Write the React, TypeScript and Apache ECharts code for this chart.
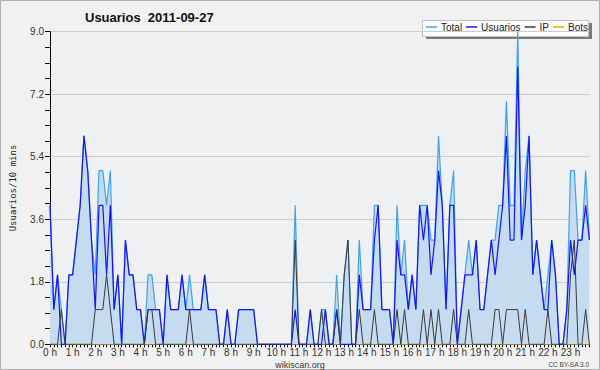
import React, { useEffect, useRef } from 'react';
import * as echarts from 'echarts';

const hourLabels = ['0 h','1 h','2 h','3 h','4 h','5 h','6 h','7 h','8 h','9 h','10 h','11 h','12 h','13 h','14 h','15 h','16 h','17 h','18 h','19 h','20 h','21 h','22 h','23 h'];

const total = [
  4,1,2,1,0,2,2,3,4,6,5,3,
  2,5,5,4,5,1,2,0,3,2,2,1,
  1,0,2,2,1,1,0,2,1,1,1,2,
  1,2,1,1,1,2,1,1,1,0,0,1,
  0,0,1,1,1,1,1,0,0,0,0,0,
  0,0,0,0,0,4,0,0,0,1,0,0,
  1,1,0,0,2,0,2,3,0,0,3,1,
  1,1,4,4,1,1,1,0,4,2,3,1,
  2,1,4,4,4,3,3,6,4,1,4,5,
  0,1,2,3,2,3,1,1,2,3,3,4,
  4,7,4,4,9,3,5,6,2,3,2,1,
  2,3,2,0,0,1,5,5,3,3,5,3,
];

const usuarios = [
  4,1,2,0,0,2,2,3,4,6,5,3,
  1,4,4,2,4,1,2,0,3,2,2,1,
  1,0,1,1,1,1,0,2,1,1,1,2,
  1,1,1,1,1,2,1,1,1,0,0,1,
  0,0,1,1,1,1,1,0,0,0,0,0,
  0,0,0,0,0,1,0,0,0,1,0,0,
  0,1,0,0,1,0,0,0,0,0,2,1,
  1,1,3,4,1,1,1,0,3,2,2,1,
  2,1,4,3,4,2,3,5,4,1,4,4,
  0,1,2,2,2,3,1,1,2,3,2,3,
  4,6,3,3,8,3,4,6,2,3,2,1,
  1,3,2,0,0,1,3,2,3,3,4,3,
];

const ip = [
  0,0,0,1,0,0,0,0,0,0,0,0,
  1,1,1,2,1,0,0,0,0,0,0,0,
  0,0,1,1,0,0,0,0,0,0,0,0,
  0,1,0,0,0,0,0,0,0,0,0,0,
  0,0,0,0,0,0,0,0,0,0,0,0,
  0,0,0,0,0,3,0,0,0,0,0,0,
  1,0,0,0,1,0,2,3,0,0,1,0,
  0,0,1,0,0,0,0,0,1,0,1,0,
  0,0,0,1,0,1,0,1,0,0,0,1,
  0,0,0,1,0,0,0,0,0,0,1,1,
  0,1,1,1,1,0,1,0,0,0,0,0,
  1,0,0,0,0,0,2,3,0,0,1,0,
];

const bots = [
  0,0,0,0,0,0,0,0,0,0,0,0,
  0,0,0,0,0,0,0,0,0,0,0,0,
  0,0,0,0,0,0,0,0,0,0,0,0,
  0,0,0,0,0,0,0,0,0,0,0,0,
  0,0,0,0,0,0,0,0,0,0,0,0,
  0,0,0,0,0,0,0,0,0,0,0,0,
  0,0,0,0,0,0,0,0,0,0,0,0,
  0,0,0,0,0,0,0,0,0,0,0,0,
  0,0,0,0,0,0,0,0,0,0,0,0,
  0,0,0,0,0,0,0,0,0,0,0,0,
  0,0,0,0,0,0,0,0,0,0,0,0,
  0,0,0,0,0,0,0,0,0,0,0,0,
];

const categories: string[] = [];
for (let h = 0; h < hourLabels.length; h++) {
  for (let k = 0; k < 6; k++) categories.push(k === 0 ? hourLabels[h] : '');
}

const FONT = '"Liberation Sans", Arial, sans-serif';

export default function App() {
  const ref = useRef<HTMLDivElement>(null);
  useEffect(() => {
    document.body.style.margin = '0';
    const chart = echarts.init(ref.current!, null, { renderer: 'svg' });
    chart.setOption({
      animation: false,
      backgroundColor: '#f1f1f1',
      title: {
        text: 'Usuarios  2011-09-27',
        left: 85,
        top: 11,
        padding: 0,
        textStyle: { fontFamily: FONT, fontWeight: 'bold', fontSize: 13, color: '#111' },
      },
      legend: {
        data: ['Total', 'Usuarios', 'IP', 'Bots'],
        left: 426,
        top: 22,
        padding: 0,
        icon: 'rect',
        itemWidth: 11,
        itemHeight: 1.5,
        itemGap: 4,
        textStyle: { fontFamily: FONT, fontSize: 10, color: '#222', padding: [0, 0, 0, -1] },
      },
      grid: {
        left: 46,
        right: 10.6,
        top: 31.7,
        bottom: 25.7,
        show: true,
        backgroundColor: '#eef0f2',
        borderWidth: 0,
      },
      xAxis: {
        type: 'category',
        data: categories,
        boundaryGap: false,
        axisLine: { lineStyle: { color: '#000', width: 1 } },
        axisTick: { show: true, interval: 0, length: 3, lineStyle: { color: '#000' } },
        axisLabel: { interval: 0, fontFamily: FONT, fontSize: 10, color: '#333', margin: 3 },
        splitLine: { show: false },
      },
      yAxis: {
        type: 'value',
        min: 0,
        max: 9,
        interval: 1.8,
        name: 'Usuarios/10 mins',
        nameLocation: 'middle',
        nameGap: 33,
        nameTextStyle: { fontFamily: '"DejaVu Sans Mono", monospace', fontSize: 9, color: '#222' },
        axisLine: { show: true, lineStyle: { color: '#000', width: 1 } },
        axisTick: { show: true, length: 5, lineStyle: { color: '#000' } },
        minorTick: { show: true, splitNumber: 4, length: 5, lineStyle: { color: '#000' } },
        axisLabel: {
          fontFamily: FONT,
          fontSize: 10,
          color: '#333',
          margin: 6,
          formatter: (v: number) => v.toFixed(1),
        },
        splitLine: { show: true, lineStyle: { color: '#cdcdcd', width: 1 } },
      },
      series: [
        {
          name: 'Bots',
          type: 'line',
          data: bots,
          symbol: 'none',
          z: 1,
          itemStyle: { color: '#ffa500' },
          lineStyle: { color: '#ffa500', width: 1 },
        },
        {
          name: 'Total',
          type: 'line',
          data: total,
          symbol: 'none',
          z: 2,
          itemStyle: { color: '#3fa2f2' },
          lineStyle: { color: '#3fa2f2', width: 1.2 },
          areaStyle: { color: '#c5dcf0', opacity: 1 },
        },
        {
          name: 'Usuarios',
          type: 'line',
          data: usuarios,
          symbol: 'none',
          z: 3,
          itemStyle: { color: '#1414ff' },
          lineStyle: { color: '#1414ff', width: 1.2 },
        },
        {
          name: 'IP',
          type: 'line',
          data: ip,
          symbol: 'none',
          z: 4,
          itemStyle: { color: '#3a3a3a' },
          lineStyle: { color: '#3a3a3a', width: 1 },
        },
      ],
      graphic: [
        { type: 'rect', z: -1, silent: true, shape: { x: 0.5, y: 0.5, width: 599, height: 369 }, style: { fill: 'none', stroke: '#b0b0b0', lineWidth: 1 } },
        { type: 'rect', z: 0, silent: true, shape: { x: 426, y: 23, width: 166, height: 16 }, style: { fill: '#7a7a7a' } },
        { type: 'rect', z: 0, silent: true, shape: { x: 422.5, y: 20.5, width: 166, height: 16 }, style: { fill: '#ffffff', stroke: '#c0c0c0', lineWidth: 1 } },
        { type: 'text', silent: true, style: { text: 'wikiscan.org', x: 300, y: 364.5, align: 'center', verticalAlign: 'middle', font: `9px ${FONT}`, fill: '#333' } },
        { type: 'text', silent: true, style: { text: 'CC BY-SA 3.0', x: 589, y: 364, align: 'right', verticalAlign: 'middle', font: `6.5px ${FONT}`, fill: '#444' } },
      ],
    });
    return () => chart.dispose();
  }, []);
  return <div ref={ref} style={{ width: 600, height: 370 }} />;
}
